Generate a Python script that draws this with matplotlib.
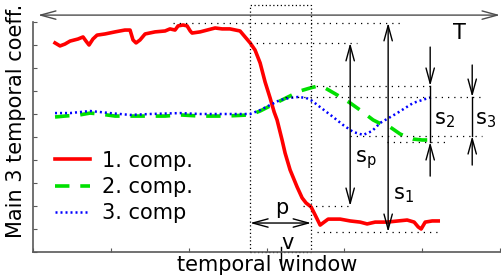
import matplotlib
matplotlib.use("Agg")
import matplotlib.pyplot as plt
from matplotlib.patches import Rectangle

plt.rcParams['font.family'] = ['DejaVu Sans']
plt.rcParams['mathtext.fontset'] = 'dejavusans'

# temporal window positions and the three main temporal coefficients
red_x = [0.283, 0.347, 0.41, 0.476, 0.578, 0.643, 0.681, 0.72, 0.77, 0.823, 0.925, 1.054,
         1.18, 1.247, 1.285, 1.324, 1.375, 1.44, 1.568, 1.697, 1.76, 1.825, 1.864, 1.928,
         1.98, 2.02, 2.044, 2.147, 2.34, 2.43, 2.53, 2.66, 2.725, 2.79, 2.853, 2.918, 2.982,
         3.046, 3.098, 3.136, 3.2, 3.239, 3.303, 3.393, 3.458, 3.509, 3.573, 3.625, 3.689,
         3.74, 3.792, 3.946, 4.075, 4.203, 4.293, 4.396, 4.55, 4.69, 4.807, 4.897, 4.949,
         4.987, 5.039, 5.129, 5.206]
red_y = [9.09, 8.96, 9.04, 9.17, 9.26, 9.35, 9.17, 9.0, 9.26, 9.43, 9.48, 9.57,
         9.65, 9.65, 9.22, 9.09, 9.22, 9.48, 9.57, 9.61, 9.7, 9.65, 9.83, 9.87,
         9.83, 9.61, 9.52, 9.57, 9.74, 9.7, 9.7, 9.61, 9.35, 9.09, 8.78, 8.22, 7.39,
         6.7, 6.09, 5.74, 4.87, 4.3, 3.57, 2.83, 2.35, 2.13, 1.96, 1.61, 1.17,
         1.3, 1.43, 1.43, 1.35, 1.3, 1.22, 1.3, 1.3, 1.35, 1.39, 1.3, 1.09,
         1.0, 1.3, 1.35, 1.35]

green_x = [0.283, 0.41, 0.6, 0.733, 0.86, 1.054, 1.375, 1.697, 1.89, 2.147, 2.47, 2.79,
           2.918, 3.046, 3.175, 3.3, 3.43, 3.56, 3.663, 3.753, 3.907, 4.075, 4.203, 4.37,
           4.499, 4.589, 4.717, 4.807, 4.884, 5.0, 5.167]
green_y = [5.87, 5.91, 5.96, 6.04, 6.0, 5.91, 5.91, 5.91, 5.96, 5.91, 5.91, 5.96,
           6.13, 6.35, 6.57, 6.78, 7.0, 7.13, 7.22, 7.13, 6.83, 6.48, 6.17, 5.74,
           5.52, 5.43, 5.13, 5.0, 4.91, 4.87, 4.87]

blue_x = [0.283, 0.476, 0.733, 0.99, 1.247, 1.504, 1.89, 2.147, 2.53, 2.79, 2.918, 3.046,
          3.175, 3.3, 3.406, 3.509, 3.586, 3.689, 3.856, 3.985, 4.113, 4.242, 4.357, 4.46,
          4.679, 4.884, 5.039, 5.129]
blue_y = [6.04, 6.04, 6.13, 6.04, 5.96, 6.0, 6.04, 6.0, 6.0, 6.0, 6.17, 6.39,
          6.61, 6.7, 6.74, 6.7, 6.57, 6.3, 5.87, 5.52, 5.22, 5.09, 5.26, 5.61,
          6.04, 6.48, 6.65, 6.74]

labels = ["1. comp.", "2. comp.", "3. comp"]

# window and levels used for the annotations
win_start, win_end = 2.79, 3.573
red_top, red_win, red_sp, red_bot = 9.96, 9.09, 2.0, 0.87
green_top, green_bot = 7.22, 4.78
blue_top, blue_bot = 6.74, 5.04

fig = plt.figure(figsize=(5.01, 2.77), dpi=100)
ax = fig.add_axes([33 / 501, 25 / 277, 467 / 501, 230 / 277])
ax.set_xlim(0, 6)
ax.set_ylim(0, 10)

ax.plot(red_x, red_y, color='#ff0000', lw=2.6, label=labels[0])
ax.plot(green_x, green_y, color='#00e000', lw=2.6, dashes=(4, 3), label=labels[1])
ax.plot(blue_x, blue_y, color='#0000ff', lw=1.8, dashes=(0.8, 1.2), label=labels[2])

for side in ['top', 'right']:
    ax.spines[side].set_visible(False)
for side in ['left', 'bottom']:
    ax.spines[side].set_color('0.35')
    ax.spines[side].set_linewidth(1.2)
ax.set_xticks(range(0, 7))
ax.set_yticks(range(0, 11))
ax.tick_params(direction='in', length=3, color='0.35', labelleft=False, labelbottom=False)

leg = ax.legend(loc='center left', bbox_to_anchor=(0.047, 0.283), frameon=False,
                fontsize=15, handlelength=1.7, handletextpad=0.55, borderpad=0,
                borderaxespad=0, labelspacing=0.3)

dot = dict(color='k', lw=0.9, linestyle=(0, (1, 4)), clip_on=False)
ax.plot([1.80, 4.74], [red_top, red_top], **dot)
ax.plot([win_start, 4.165], [red_win, red_win], **dot)
ax.plot([3.56, 5.167], [green_top, green_top], **dot)
ax.plot([3.24, 5.745], [blue_top, blue_top], **dot)
ax.plot([4.075, 5.77], [blue_bot, blue_bot], **dot)
ax.plot([4.55, 5.32], [green_bot, green_bot], **dot)
ax.plot([3.47, 4.11], [red_sp, red_sp], **dot)
ax.plot([3.65, 5.206], [red_bot, red_bot], **dot)

ax.add_patch(Rectangle((win_start, 0), win_end - win_start, 10.74, fill=False,
                       ec='k', lw=0.9, linestyle=(0, (1, 2)), clip_on=False))


def arrow(x0, y0, x1, y1, style='->', color='k'):
    ax.annotate('', xy=(x1, y1), xytext=(x0, y0), annotation_clip=False,
                arrowprops=dict(arrowstyle=style + ',head_length=1.1,head_width=0.3',
                                color=color, lw=1.0, shrinkA=0, shrinkB=0))


arrow(0.064, 10.30, 6.0, 10.30, '<->', '0.3')
arrow(4.075, red_sp, 4.075, red_win, '<->')
arrow(4.563, red_bot, 4.563, red_top, '<->')
arrow(5.103, 8.91, 5.103, green_top)
ax.plot([5.103, 5.103], [green_top, green_bot], color='k', lw=1.0)
arrow(5.103, 3.30, 5.103, green_bot)
arrow(5.643, 8.13, 5.643, blue_top)
ax.plot([5.643, 5.643], [blue_top, blue_bot], color='k', lw=1.0)
arrow(5.643, 3.78, 5.643, blue_bot)
arrow(win_start, 1.26, win_end, 1.26, '<->')
ax.plot([3.188, 3.188], [0.22, -0.48], color='k', lw=1.0, clip_on=False)

txt = dict(fontsize=15, ha='center', va='center')
ax.text(5.475, 9.52, 'T', **txt)
ax.text(4.28, 4.0, r'$\mathrm{s_p}$', **txt)
ax.text(4.756, 2.48, r'$\mathrm{s_1}$', **txt)
ax.text(5.283, 5.74, r'$\mathrm{s_2}$', **txt)
ax.text(5.81, 5.74, r'$\mathrm{s_3}$', **txt)
ax.text(3.2, 1.91, 'p', **txt)
ax.text(3.265, 0.39, 'v', **txt)

fig.text(267 / 501, 6 / 277, 'temporal window', fontsize=15, ha='center', va='baseline')
fig.text(16 / 501, 156 / 277, 'Main 3 temporal coeff.', fontsize=15, rotation=90,
         ha='center', va='center')

fig.savefig('out.png', dpi=100)
